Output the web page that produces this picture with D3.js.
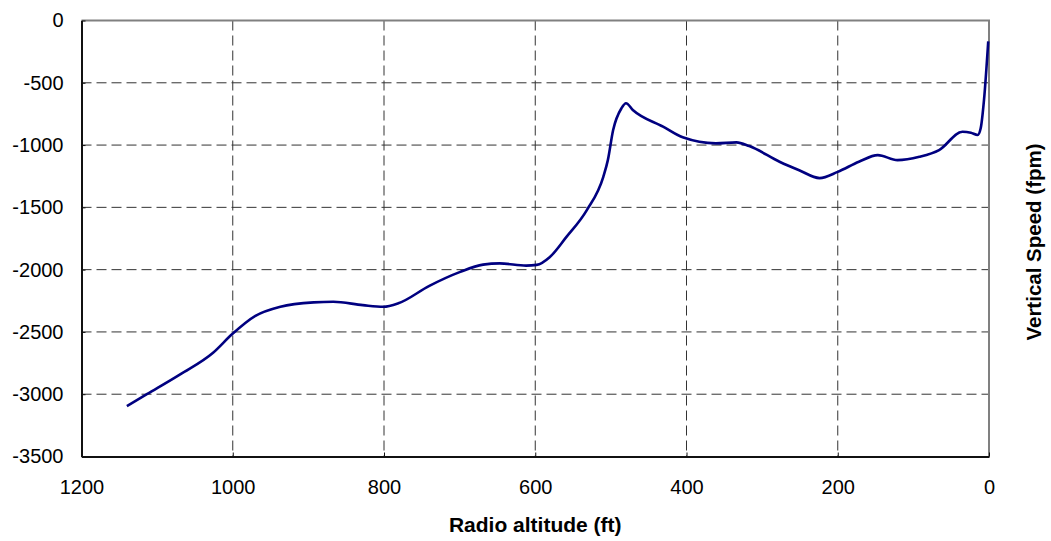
<!DOCTYPE html>
<html>
<head>
  <meta charset="utf-8">
  <title>Vertical speed vs radio altitude</title>
  <style type="text/css">
    body { margin: 0; background: #fff; }
    svg text { font-family: "Liberation Sans", Arial, sans-serif; }
  </style>
</head>
<body>
<div id="chart"></div>
<script src="https://d3js.org/d3.v7.min.js"></script>
<script type="text/javascript">
// radio altitude (ft) and vertical speed (fpm) along the approach
var altitude = [1140, 1113, 1069, 1026, 1001, 970, 937, 893, 867, 828, 801, 781, 740, 700, 669, 647, 612, 598, 581,
  559, 532, 510, 504, 497, 486, 480, 471, 431, 405, 361, 334, 317, 277, 251, 224, 200, 172, 147, 121, 92, 66, 35, 24, 15, 11, 6.6, 1];
var vspeed = [-3095, -2998, -2839, -2667, -2519, -2371, -2298, -2263, -2258, -2285, -2298, -2270, -2130, -2020, -1960, -1950, -1968, -1962, -1900,
  -1739, -1524, -1255, -1121, -879, -704, -664, -718, -852, -938, -986, -978, -1008, -1134, -1202, -1265, -1215, -1134, -1081, -1121, -1094, -1040, -893, -901, -919, -865, -637, -167];
var xTicks = [1200, 1000, 800, 600, 400, 200, 0];
var yTicks = [0, -500, -1000, -1500, -2000, -2500, -3000, -3500];

var width = 1051, height = 541;
var margin = {left: 81.5, right: 62, top: 20.5, bottom: 84.5};

var svg = d3.select("#chart")
  .append("svg")
  .attr("width", width)
  .attr("height", height);

var x = d3.scaleLinear()
  .domain([1200, 0])
  .range([margin.left, width - margin.right]);
var y = d3.scaleLinear()
  .domain([-3500, 0])
  .range([height - margin.bottom, margin.top]);

var data = altitude.map((a, i) => ({alt: a, vs: vspeed[i]}));

// dashed grid
svg.append("g")
  .selectAll("line")
  .data(yTicks.slice(1, -1))
  .enter()
  .append("line")
  .attr("x1", x(1200))
  .attr("x2", x(0))
  .attr("y1", d => y(d))
  .attr("y2", d => y(d))
  .attr("stroke", "#333")
  .attr("stroke-dasharray", "10,5");

svg.append("g")
  .selectAll("line")
  .data(xTicks.slice(1, -1))
  .enter()
  .append("line")
  .attr("x1", d => x(d))
  .attr("x2", d => x(d))
  .attr("y1", y(0))
  .attr("y2", y(-3500))
  .attr("stroke", "#333")
  .attr("stroke-dasharray", "10,5");

// top and right frame
svg.append("path")
  .attr("d", `M${x(1200)},${y(0)}H${x(0)}V${y(-3500)}`)
  .attr("fill", "none")
  .attr("stroke", "#808080")
  .attr("stroke-width", 2);

var xAxis = svg.append("g")
  .attr("transform", `translate(0,${y(-3500)})`)
  .call(d3.axisBottom(x).tickValues(xTicks).tickFormat(d => String(d))
    .tickSizeInner(-4).tickSizeOuter(0).tickPadding(23));
var yAxis = svg.append("g")
  .attr("transform", `translate(${x(1200)},0)`)
  .call(d3.axisLeft(y).tickValues(yTicks).tickFormat(d => String(d))
    .tickSizeInner(-4).tickSizeOuter(0).tickPadding(18));

[xAxis, yAxis].forEach(g => {
  g.select(".domain").attr("stroke", "#111").attr("stroke-width", 2);
  g.selectAll(".tick line").attr("stroke", "#111");
  g.selectAll(".tick text")
    .style("font-size", "20px")
    .style("fill", "#000");
});

svg.append("path")
  .datum(data)
  .attr("fill", "none")
  .attr("stroke", "#000080")
  .attr("stroke-width", 2.6)
  .attr("d", d3.line()
    .x(d => x(d.alt))
    .y(d => y(d.vs))
    .curve(d3.curveMonotoneX));

svg.append("text")
  .attr("x", (x(1200) + x(0)) / 2)
  .attr("y", 532)
  .attr("text-anchor", "middle")
  .style("font-size", "21px")
  .style("font-weight", "bold")
  .text("Radio altitude (ft)");

svg.append("text")
  .attr("transform", "translate(1041,242) rotate(-90)")
  .attr("text-anchor", "middle")
  .style("font-size", "20.5px")
  .style("font-weight", "bold")
  .text("Vertical Speed (fpm)");
</script>
</body>
</html>
